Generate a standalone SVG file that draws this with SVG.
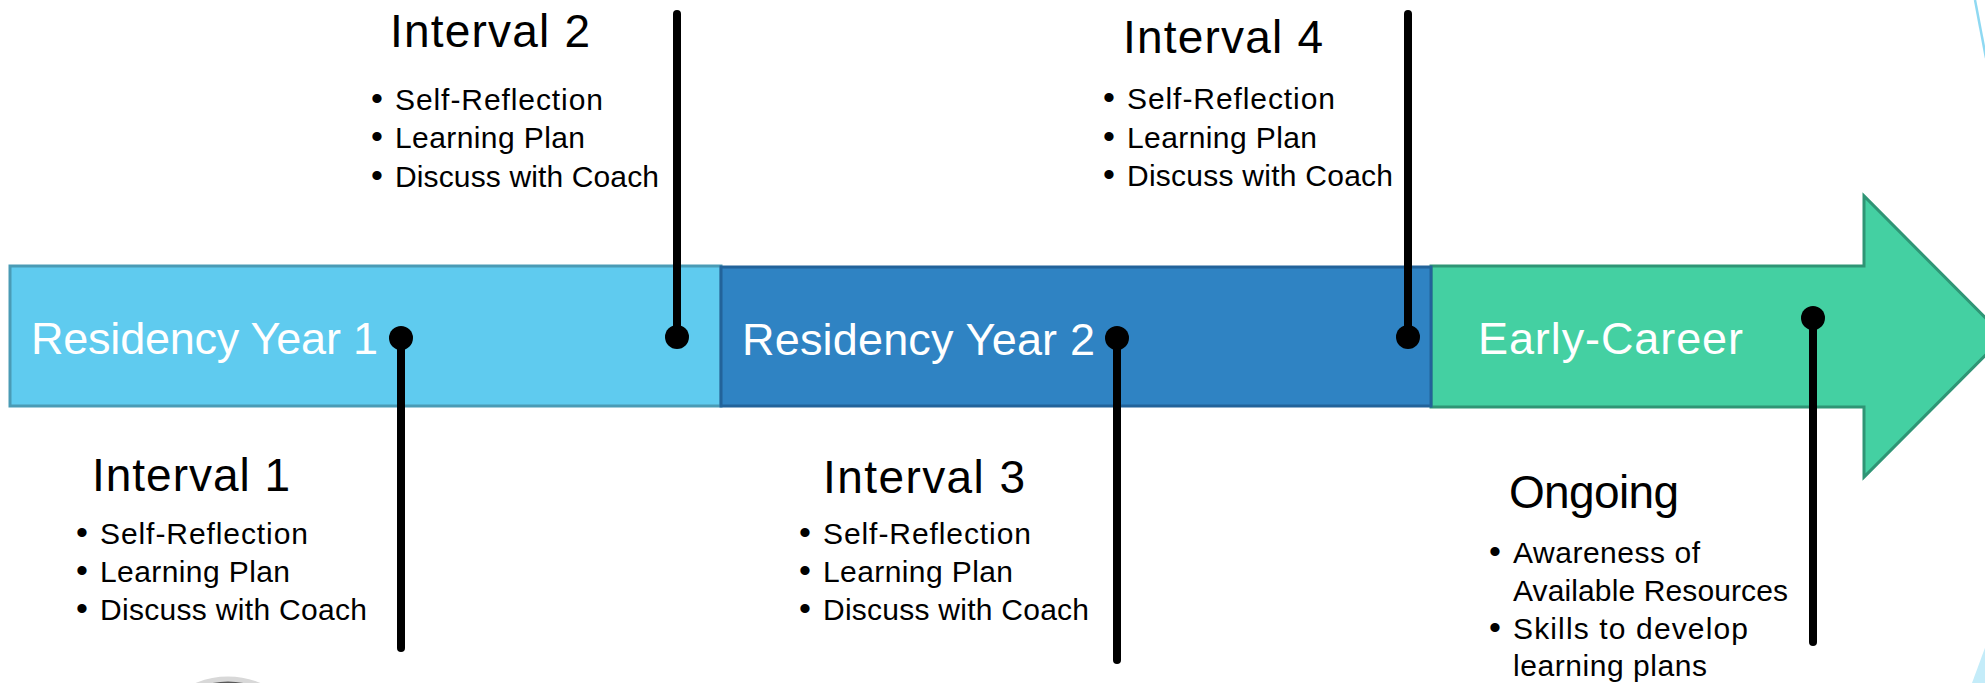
<svg xmlns="http://www.w3.org/2000/svg" width="1985" height="683" viewBox="0 0 1985 683">
  <style>
    .phase-label { font-family: "Liberation Sans", Arial, sans-serif; font-size: 45px; fill: #ffffff; }
    .title { font-family: "Liberation Sans", Arial, sans-serif; font-size: 46px; fill: #000000; }
    .item { font-family: "Liberation Sans", Arial, sans-serif; font-size: 30px; fill: #000000; }
    .bullet { font-family: "Liberation Sans", Arial, sans-serif; font-size: 34px; fill: #000000; text-anchor: middle; }
    .pin { stroke: #000000; stroke-width: 8; stroke-linecap: round; fill: none; }
    .dot { fill: #000000; }
  </style>
  <rect width="1985" height="683" fill="#ffffff"/>

  <!-- decorative background bits -->
  <g id="decor">
    <line x1="1975" y1="0" x2="1986" y2="58" stroke="#8FD9F2" stroke-width="2.5"/>
    <polygon points="1986,645 1972,683 1986,683" fill="#C4ECF9"/>
    <circle cx="228" cy="761" r="82" fill="#5a5a5a" stroke="#d8d8d8" stroke-width="5"/>
  </g>

  <g id="phase-early-career">
    <polygon points="1431,266 1864,266 1864,196 2004,336.5 1864,477 1864,407 1431,407" fill="#44D0A2" stroke="#2F9575" stroke-width="3"/>
    <text class="phase-label" x="1478" y="354" textLength="265">Early-Career</text>
  </g>
  <g id="phase-residency-1">
    <rect x="10" y="266" width="711" height="140" fill="#5FCBEF" stroke="#4A9BB5" stroke-width="3"/>
    <text class="phase-label" x="31" y="354" textLength="347">Residency Year 1</text>
  </g>
  <g id="phase-residency-2">
    <rect x="721" y="267" width="710" height="139" fill="#2F83C3" stroke="#22639A" stroke-width="3"/>
    <text class="phase-label" x="742" y="355" textLength="353">Residency Year 2</text>
  </g>

  <g id="connectors">
    <line class="pin" x1="401" y1="338" x2="401" y2="648"/>
    <circle class="dot" cx="401" cy="338" r="12"/>
    <line class="pin" x1="677" y1="14" x2="677" y2="337"/>
    <circle class="dot" cx="677" cy="337" r="12"/>
    <line class="pin" x1="1117" y1="338" x2="1117" y2="660"/>
    <circle class="dot" cx="1117" cy="338" r="12"/>
    <line class="pin" x1="1408" y1="14" x2="1408" y2="337"/>
    <circle class="dot" cx="1408" cy="337" r="12"/>
    <line class="pin" x1="1813" y1="318" x2="1813" y2="642"/>
    <circle class="dot" cx="1813" cy="318" r="12"/>
  </g>

  <g id="interval-1">
    <text class="title" x="92" y="491" textLength="198">Interval 1</text>
    <text class="bullet" x="82" y="544">•</text>
    <text class="item" x="100" y="544" textLength="208">Self-Reflection</text>
    <text class="bullet" x="82" y="582">•</text>
    <text class="item" x="100" y="582" textLength="190">Learning Plan</text>
    <text class="bullet" x="82" y="620">•</text>
    <text class="item" x="100" y="620" textLength="267">Discuss with Coach</text>
  </g>

  <g id="interval-2">
    <text class="title" x="390" y="47" textLength="200">Interval 2</text>
    <text class="bullet" x="377" y="110">•</text>
    <text class="item" x="395" y="110" textLength="208">Self-Reflection</text>
    <text class="bullet" x="377" y="148">•</text>
    <text class="item" x="395" y="148" textLength="190">Learning Plan</text>
    <text class="bullet" x="377" y="187">•</text>
    <text class="item" x="395" y="187" textLength="264">Discuss with Coach</text>
  </g>

  <g id="interval-3">
    <text class="title" x="823" y="493" textLength="202">Interval 3</text>
    <text class="bullet" x="805" y="544">•</text>
    <text class="item" x="823" y="544" textLength="208">Self-Reflection</text>
    <text class="bullet" x="805" y="582">•</text>
    <text class="item" x="823" y="582" textLength="190">Learning Plan</text>
    <text class="bullet" x="805" y="620">•</text>
    <text class="item" x="823" y="620" textLength="266">Discuss with Coach</text>
  </g>

  <g id="interval-4">
    <text class="title" x="1123" y="53" textLength="200">Interval 4</text>
    <text class="bullet" x="1109" y="109">•</text>
    <text class="item" x="1127" y="109" textLength="208">Self-Reflection</text>
    <text class="bullet" x="1109" y="148">•</text>
    <text class="item" x="1127" y="148" textLength="190">Learning Plan</text>
    <text class="bullet" x="1109" y="186">•</text>
    <text class="item" x="1127" y="186" textLength="266">Discuss with Coach</text>
  </g>

  <g id="ongoing">
    <text class="title" x="1509" y="508" textLength="170">Ongoing</text>
    <text class="bullet" x="1495" y="563">•</text>
    <text class="item" x="1513" y="563" textLength="187">Awareness of</text>
    <text class="item" x="1513" y="601" textLength="275">Available Resources</text>
    <text class="bullet" x="1495" y="639">•</text>
    <text class="item" x="1513" y="639" textLength="235">Skills to develop</text>
    <text class="item" x="1513" y="676" textLength="194">learning plans</text>
  </g>
</svg>
